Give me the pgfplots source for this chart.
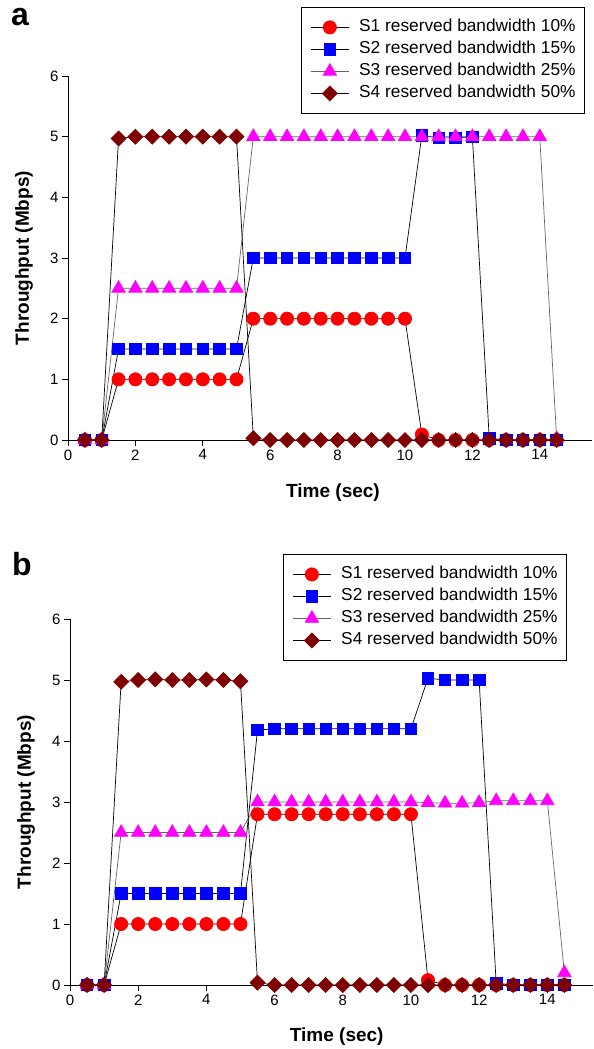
\documentclass[border=0pt]{standalone}
\usepackage{pgfplots}
\pgfplotsset{compat=1.18}
\usepackage{fontspec}
\setmainfont{Liberation Sans}

\definecolor{sOne}{RGB}{255,0,0}
\definecolor{sTwo}{RGB}{0,0,255}
\definecolor{sThree}{RGB}{255,0,255}
\definecolor{sFour}{RGB}{128,0,0}
\definecolor{lineGray}{RGB}{100,100,100}

\pgfplotsset{
  tpaxis/.style={
    scale only axis,
    anchor=south west,
    axis x line=bottom, axis y line=left,
    axis line style={-, black, line width=0.8bp},
    xmin=0, ymin=0, ymax=6,
    xtick={0,2,...,14}, ytick={0,...,6},
    tick align=outside, major tick length=6bp,
    tick style={black, line width=0.8bp},
    clip=false,
    /pgf/number format/assume math mode=true,
    tick label style={font=\fontsize{15bp}{18bp}\selectfont},
    label style={font=\bfseries\fontsize{19bp}{23bp}\selectfont, anchor=center},
    ylabel={Throughput (Mbps)},
    xlabel={Time (sec)},
    legend cell align=left,
    legend style={font=\fontsize{17.3bp}{21bp}\selectfont, draw=black,
      line width=0.8bp, anchor=north east, inner xsep=9bp, inner ysep=11.5bp,
      row sep=5bp, column sep=10bp,
      nodes={inner sep=0pt, text height=13bp, text depth=4bp}},
    legend image code/.code={\draw[##1, mark repeat=2, mark phase=2]
      plot coordinates {(0bp,0bp) (19bp,0bp) (38bp,0bp)};},
    every axis plot/.append style={black, line width=0.7bp},
  },
  s1/.style={mark=*, mark size=6.6bp, mark options={fill=sOne, draw=sOne}},
  s2/.style={mark=square*, mark size=5.8bp, mark options={fill=sTwo, draw=sTwo}},
  s3/.style={lineGray, mark=triangle*, mark size=7.7bp, mark options={fill=sThree, draw=sThree}},
  s4/.style={mark=square*, mark size=5.3bp, mark options={fill=sFour, draw=sFour, rotate=45}},
}

\begin{document}
\begin{tikzpicture}[x=1bp, y=1bp]
\useasboundingbox (0,0) rectangle (594,-1049);

\node[anchor=base west, inner sep=0, font=\bfseries\fontsize{32bp}{36bp}\selectfont] at (11,-25) {a};
\node[anchor=base west, inner sep=0, font=\bfseries\fontsize{32bp}{36bp}\selectfont] at (12,-575) {b};

% panel a
\begin{axis}[tpaxis,
  at={(68bp,-440bp)}, width=524bp, height=364bp, xmax=15.55,
  xlabel style={at={(axis description cs:0.5057,-0.1456)}},
  ylabel style={at={(axis description cs:-0.084,0.5)}},
  legend style={at={(0.9866,1.1896)}},
  ]
\addplot[s1] coordinates {
  (0.5,0)(1,0)(1.5,1)(2,1)(2.5,1)(3,1)(3.5,1)(4,1)(4.5,1)(5,1)
  (5.5,2)(6,2)(6.5,2)(7,2)(7.5,2)(8,2)(8.5,2)(9,2)(9.5,2)(10,2)
  (10.5,0.09)(11,0)(11.5,0)(12,0)(12.5,0)(13,0)(13.5,0)(14,0)(14.5,0)};
\addplot[s2] coordinates {
  (0.5,0)(1,0)(1.5,1.5)(2,1.5)(2.5,1.5)(3,1.5)(3.5,1.5)(4,1.5)(4.5,1.5)(5,1.5)
  (5.5,3)(6,3)(6.5,3)(7,3)(7.5,3)(8,3)(8.5,3)(9,3)(9.5,3)(10,3)
  (10.5,5.02)(11,4.98)(11.5,4.98)(12,5)(12.5,0.03)(13,0)(13.5,0)(14,0)(14.5,0)};
\addplot[s3] coordinates {
  (0.5,0)(1,0)(1.5,2.5)(2,2.5)(2.5,2.5)(3,2.5)(3.5,2.5)(4,2.5)(4.5,2.5)(5,2.5)
  (5.5,5)(6,5)(6.5,5)(7,5)(7.5,5)(8,5)(8.5,5)(9,5)(9.5,5)(10,5)
  (10.5,5)(11,5)(11.5,5)(12,5)(12.5,5)(13,5)(13.5,5)(14,5)(14.5,0.02)};
\addplot[s4] coordinates {
  (0.5,0)(1,0)(1.5,4.97)(2,5)(2.5,5)(3,5)(3.5,5)(4,5)(4.5,5)(5,5)
  (5.5,0.03)(6,0)(6.5,0)(7,0)(7.5,0)(8,0)(8.5,0)(9,0)(9.5,0)(10,0)
  (10.5,0)(11,0)(11.5,0)(12,0)(12.5,0)(13,0)(13.5,0)(14,0)(14.5,0)};
\legend{S1 reserved bandwidth 10\%, S2 reserved bandwidth 15\%,
  S3 reserved bandwidth 25\%, S4 reserved bandwidth 50\%}
\end{axis}

% panel b
\begin{axis}[tpaxis,
  at={(70bp,-985bp)}, width=523bp, height=366bp, xmax=15.34,
  xlabel style={at={(axis description cs:0.51,-0.142)}},
  ylabel style={at={(axis description cs:-0.084,0.5)}},
  legend style={at={(0.9503,1.1776)}},
  ]
\addplot[s1] coordinates {
  (0.5,0)(1,0)(1.5,1)(2,1)(2.5,1)(3,1)(3.5,1)(4,1)(4.5,1)(5,1)
  (5.5,2.8)(6,2.8)(6.5,2.8)(7,2.8)(7.5,2.8)(8,2.8)(8.5,2.8)(9,2.8)(9.5,2.8)(10,2.8)
  (10.5,0.08)(11,0)(11.5,0)(12,0)(12.5,0)(13,0)(13.5,0)(14,0)(14.5,0)};
\addplot[s2] coordinates {
  (0.5,0)(1,0)(1.5,1.5)(2,1.5)(2.5,1.5)(3,1.5)(3.5,1.5)(4,1.5)(4.5,1.5)(5,1.5)
  (5.5,4.18)(6,4.2)(6.5,4.2)(7,4.2)(7.5,4.2)(8,4.2)(8.5,4.2)(9,4.2)(9.5,4.2)(10,4.2)
  (10.5,5.03)(11,5)(11.5,5)(12,5)(12.5,0.03)(13,0)(13.5,0)(14,0)(14.5,0)};
\addplot[s3] coordinates {
  (0.5,0)(1,0)(1.5,2.5)(2,2.5)(2.5,2.5)(3,2.5)(3.5,2.5)(4,2.5)(4.5,2.5)(5,2.5)
  (5.5,3)(6,3)(6.5,3)(7,3)(7.5,3)(8,3)(8.5,3)(9,3)(9.5,3)(10,3)
  (10.5,2.99)(11,2.98)(11.5,2.98)(12,2.99)(12.5,3.02)(13,3.02)(13.5,3.02)(14,3.02)(14.5,0.2)};
\addplot[s4] coordinates {
  (0.5,0)(1,0)(1.5,4.97)(2,5)(2.5,5.01)(3,5)(3.5,5)(4,5.01)(4.5,5)(5,4.98)
  (5.5,0.04)(6,0)(6.5,0)(7,0)(7.5,0)(8,0)(8.5,0)(9,0)(9.5,0)(10,0)
  (10.5,0)(11,0)(11.5,0)(12,0)(12.5,0)(13,0)(13.5,0)(14,0)(14.5,0)};
\legend{S1 reserved bandwidth 10\%, S2 reserved bandwidth 15\%,
  S3 reserved bandwidth 25\%, S4 reserved bandwidth 50\%}
\end{axis}
\end{tikzpicture}
\end{document}
